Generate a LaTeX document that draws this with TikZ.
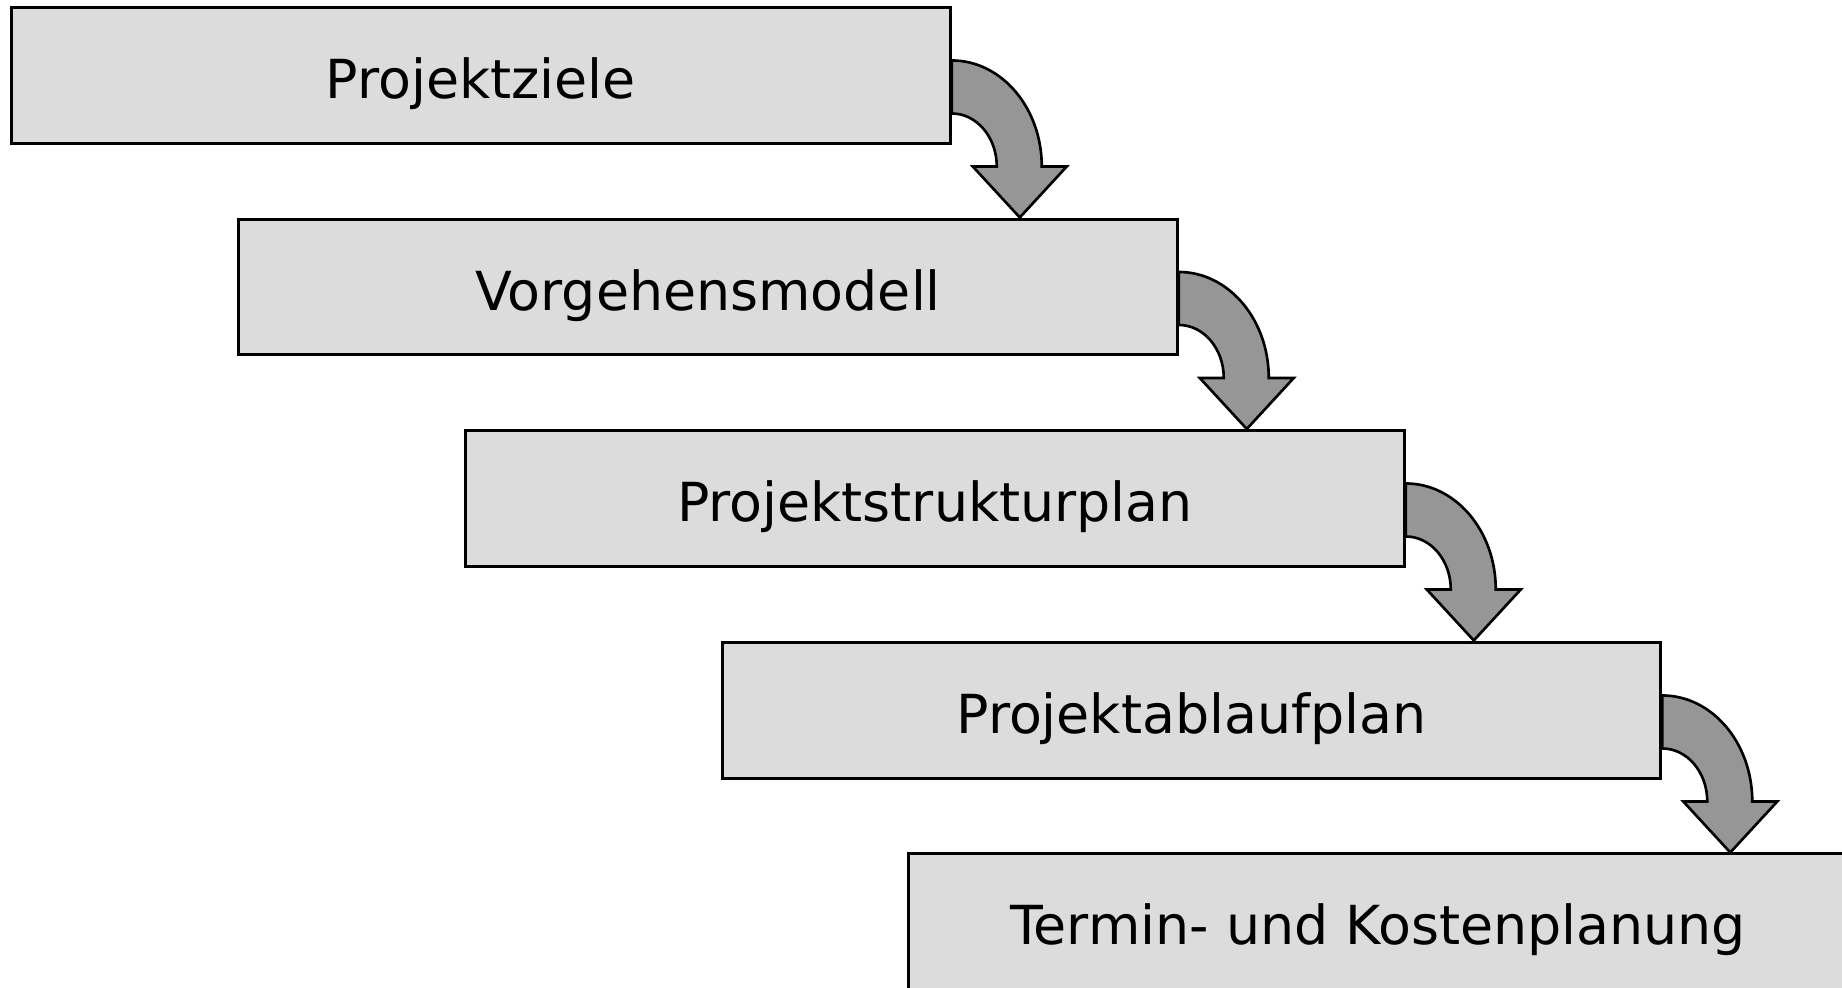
\documentclass[tikz,border=0pt]{standalone}
\usepackage{fontspec}
\setmainfont{DejaVu Sans}
\usetikzlibrary{calc}
\definecolor{boxfill}{HTML}{DCDCDC}
\definecolor{arrowfill}{HTML}{969696}
\tikzset{
  stage/.style={draw=black, line width=0.85pt, fill=boxfill,
    minimum width=9.38cm, minimum height=1.35cm, inner sep=0pt,
    text height=13.2pt, text depth=0pt,
    font=\fontsize{15.3}{18}\selectfont},
  bendarrow/.style={draw=black, line width=0.75pt, fill=arrowfill, line join=miter}
}
% curved block arrow leaving the right side of a stage box
\newcommand\stagearrow[1]{%
  \draw[bendarrow] ($(#1.north east)+(0,-54)$)
    arc[start angle=90, end angle=0, x radius=90, y radius=106]
    -- ($(#1.north east)+(115,-160)$)
    -- ($(#1.north east)+(68,-211)$)
    -- ($(#1.north east)+(21,-160)$)
    -- ($(#1.north east)+(45,-160)$)
    arc[start angle=0, end angle=90, x radius=45, y radius=53]
    -- cycle;}
\begin{document}
\begin{tikzpicture}[x=0.01cm, y=0.01cm]
  \useasboundingbox (0,0) rectangle (1842,-988);
  \node[stage] (s1) at (481,-75.5)  {Projektziele};
  \node[stage] (s2) at (708,-287)   {Vorgehensmodell};
  \node[stage] (s3) at (935,-498.5) {Projektstrukturplan};
  \node[stage] (s4) at (1191.5,-710.5) {Projektablaufplan};
  \node[stage] (s5) at (1378,-921.5) {Termin- und Kostenplanung};
  \stagearrow{s1}
  \stagearrow{s2}
  \stagearrow{s3}
  \stagearrow{s4}
\end{tikzpicture}
\end{document}
